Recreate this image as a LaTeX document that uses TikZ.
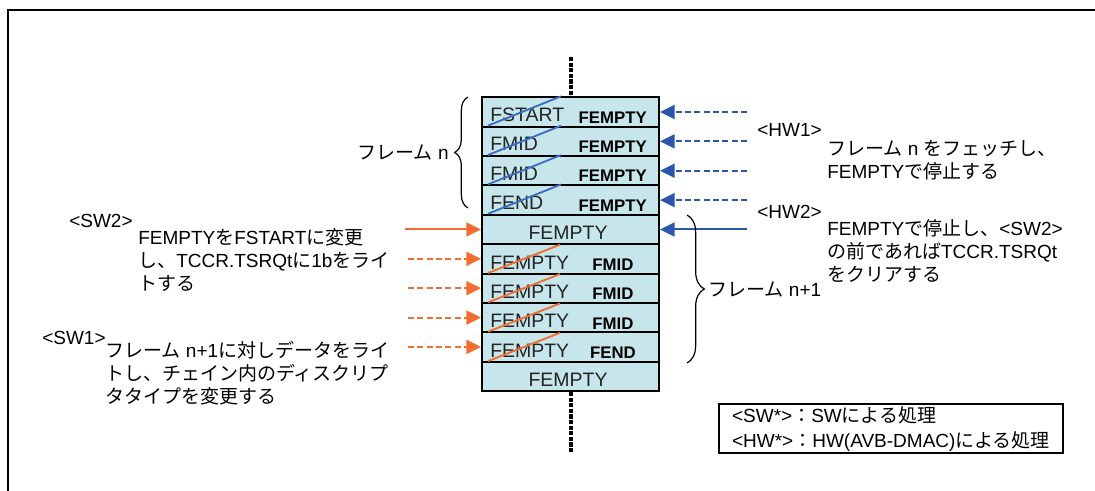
\documentclass[tikz,border=0pt]{standalone}
\usepackage{fontspec}
\setmainfont{Liberation Sans}
\newfontfamily\jp{Noto Sans CJK JP}
\usetikzlibrary{arrows.meta,decorations.pathreplacing,calc}
\definecolor{boxfill}{RGB}{198,230,236}
\definecolor{hwblue}{RGB}{44,86,170}
\definecolor{strkblue}{RGB}{60,110,195}
\definecolor{swor}{RGB}{242,110,48}
\definecolor{boxtext}{RGB}{35,35,35}
\tikzset{
  rowbox/.style={draw, fill=boxfill, line width=1.5pt, minimum width=132.75pt, minimum height=22pt, inner sep=0pt},
  cellnorm/.style={font=\fontsize{14.6}{16}\selectfont, text=boxtext, inner sep=0pt},
  cellbold/.style={font=\fontsize{12.6}{14}\selectfont\bfseries, text=black, inner sep=0pt},
  txt/.style={font=\fontsize{14.25}{17.25}\selectfont, inner sep=0pt, align=left},
  hwarr/.style={draw=hwblue, line width=1.5pt, -{Triangle[length=11pt,width=10.5pt]}},
  swarr/.style={draw=swor, line width=1.5pt, -{Triangle[length=11pt,width=10.5pt]}},
  dashpat/.style={dash pattern=on 4.5pt off 2.5pt},
  chainline/.style={line width=3pt, dash pattern=on 3.2pt off 1pt},
  strikeb/.style={draw=strkblue, line width=1.4pt},
  strikeo/.style={draw=swor, line width=1.4pt},
  bracestyle/.style={decorate, line width=0.9pt},
}
\begin{document}
\begin{tikzpicture}[x=0.75pt,y=-0.75pt]
\useasboundingbox (0,0) rectangle (1095,491);
% outer partial frame
\coordinate (fa) at (7.5,491);
\coordinate (fb) at (7.5,10.5);
\coordinate (fc) at (1095,10.5);
\draw[line width=1.5pt] (fa) -- (fb) -- (fc);

% rows
\foreach \i in {1,...,10}{
  \node[rowbox] (r\i) at (570.5,{97.3+29.37*(\i-0.5)}) {};
}
% chain lines
\coordinate (ctop) at (570.5,57);
\coordinate (cbot) at (570.5,453);
\draw[chainline] (ctop) -- (r1.north);
\draw[chainline] (r10.south) -- (cbot);

% top rows texts
\node[cellnorm, anchor=base west] (t1) at (490,121.7) {FSTART};
\node[cellnorm, anchor=base west] (t2) at (490,151.0) {FMID};
\node[cellnorm, anchor=base west] (t3) at (490,180.4) {FMID};
\node[cellnorm, anchor=base west] (t4) at (490,209.8) {FEND};
\foreach \i/\y in {1/123.3,2/152.7,3/182.0,4/211.4}{
  \node[cellbold, anchor=base east] (b\i) at (647,\y) {FEMPTY};
}
\foreach \i in {1,...,4}{
  \draw[strikeb] ($(r\i.south west)+(7,-2)$) -- ($(r\i.north west)+(80,0)$);
}
% row 5 and 10
\node[cellnorm, anchor=base] (t5) at (568,240) {FEMPTY};
\node[cellnorm, anchor=base] (t10) at (568,386) {FEMPTY};
% rows 6-9
\foreach \i/\y in {6/269.3,7/298.7,8/328.0,9/357.4}{
  \node[cellnorm, anchor=base west] (t\i) at (490,\y) {FEMPTY};
}
\node[cellbold, anchor=base] (b6) at (613,270.7) {FMID};
\node[cellbold, anchor=base] (b7) at (613,300.0) {FMID};
\node[cellbold, anchor=base] (b8) at (613,329.4) {FMID};
\node[cellbold, anchor=base] (b9) at (613,358.8) {FEND};
\foreach \i in {6,...,9}{
  \draw[strikeo] ($(r\i.south west)+(7,-1.5)$) -- ($(r\i.north west)+(79,1.5)$);
}

% HW arrows
\foreach \i in {1,...,4}{
  \coordinate (h\i) at (747,{97.3+29.37*(\i-0.5)});
  \draw[hwarr, dashpat] (h\i) -- (r\i.east);
}
\coordinate (h5) at (747,{97.3+29.37*4.5});
\draw[hwarr] (h5) -- (r5.east);

% SW arrows
\coordinate (s5) at (405,{97.3+29.37*4.5});
\draw[swarr] (s5) -- (r5.west);
\foreach \i in {6,...,9}{
  \coordinate (s\i) at (408,{97.3+29.37*(\i-0.5)});
  \draw[swarr, dashpat] (s\i) -- (r\i.west);
}

% braces
\coordinate (lb1) at (468,208);
\coordinate (lb2) at (468,97);
\draw[bracestyle, decoration={brace, amplitude=10pt}] (lb1) -- (lb2);
\node[txt, anchor=east] (fn) at (449,153) {{\jp フレーム} n};
\coordinate (rb1) at (687,215);
\coordinate (rb2) at (687,363);
\draw[bracestyle, decoration={brace, amplitude=13pt}] (rb1) -- (rb2);
\node[txt, anchor=west] (fn1) at (708,290) {{\jp フレーム} n+1};

% texts
\node[txt, anchor=west] (sw2) at (69,220.5) {<SW2>};
\node[txt, anchor=north west] (sw2t) at (138,228.5) {FEMPTY{\jp を}FSTART{\jp に変更}\\{\jp し、}TCCR.TSRQt{\jp に}1b{\jp をライ}\\{\jp トする}};
\node[txt, anchor=west] (sw1) at (42,337.5) {<SW1>};
\node[txt, anchor=north west] (sw1t) at (105,341.5) {{\jp フレーム} n+1{\jp に対しデータをライ}\\{\jp トし、チェイン内のディスクリプ}\\{\jp タタイプを変更する}};
\node[txt, anchor=west] (hw1) at (757,129.5) {<HW1>};
\node[txt, anchor=north west] (hw1t) at (827,139.8) {{\jp フレーム} n {\jp をフェッチし、}\\FEMPTY{\jp で停止する}};
\node[txt, anchor=west] (hw2) at (757,212) {<HW2>};
\node[txt, anchor=north west] (hw2t) at (827,219.5) {FEMPTY{\jp で停止し、}<SW2>\\{\jp の前であれば}TCCR.TSRQt\\{\jp をクリアする}};

% legend
\node[draw, line width=1.5pt, anchor=north west, minimum width=258pt, minimum height=36.75pt, inner sep=1.5pt, align=left, font=\fontsize{14.25}{18.75}\selectfont] (legend) at (718,403)
  {<SW*>{\jp ：}SW{\jp による処理}\\<HW*>{\jp ：}HW(AVB-DMAC){\jp による処理}};
\end{tikzpicture}
\end{document}
